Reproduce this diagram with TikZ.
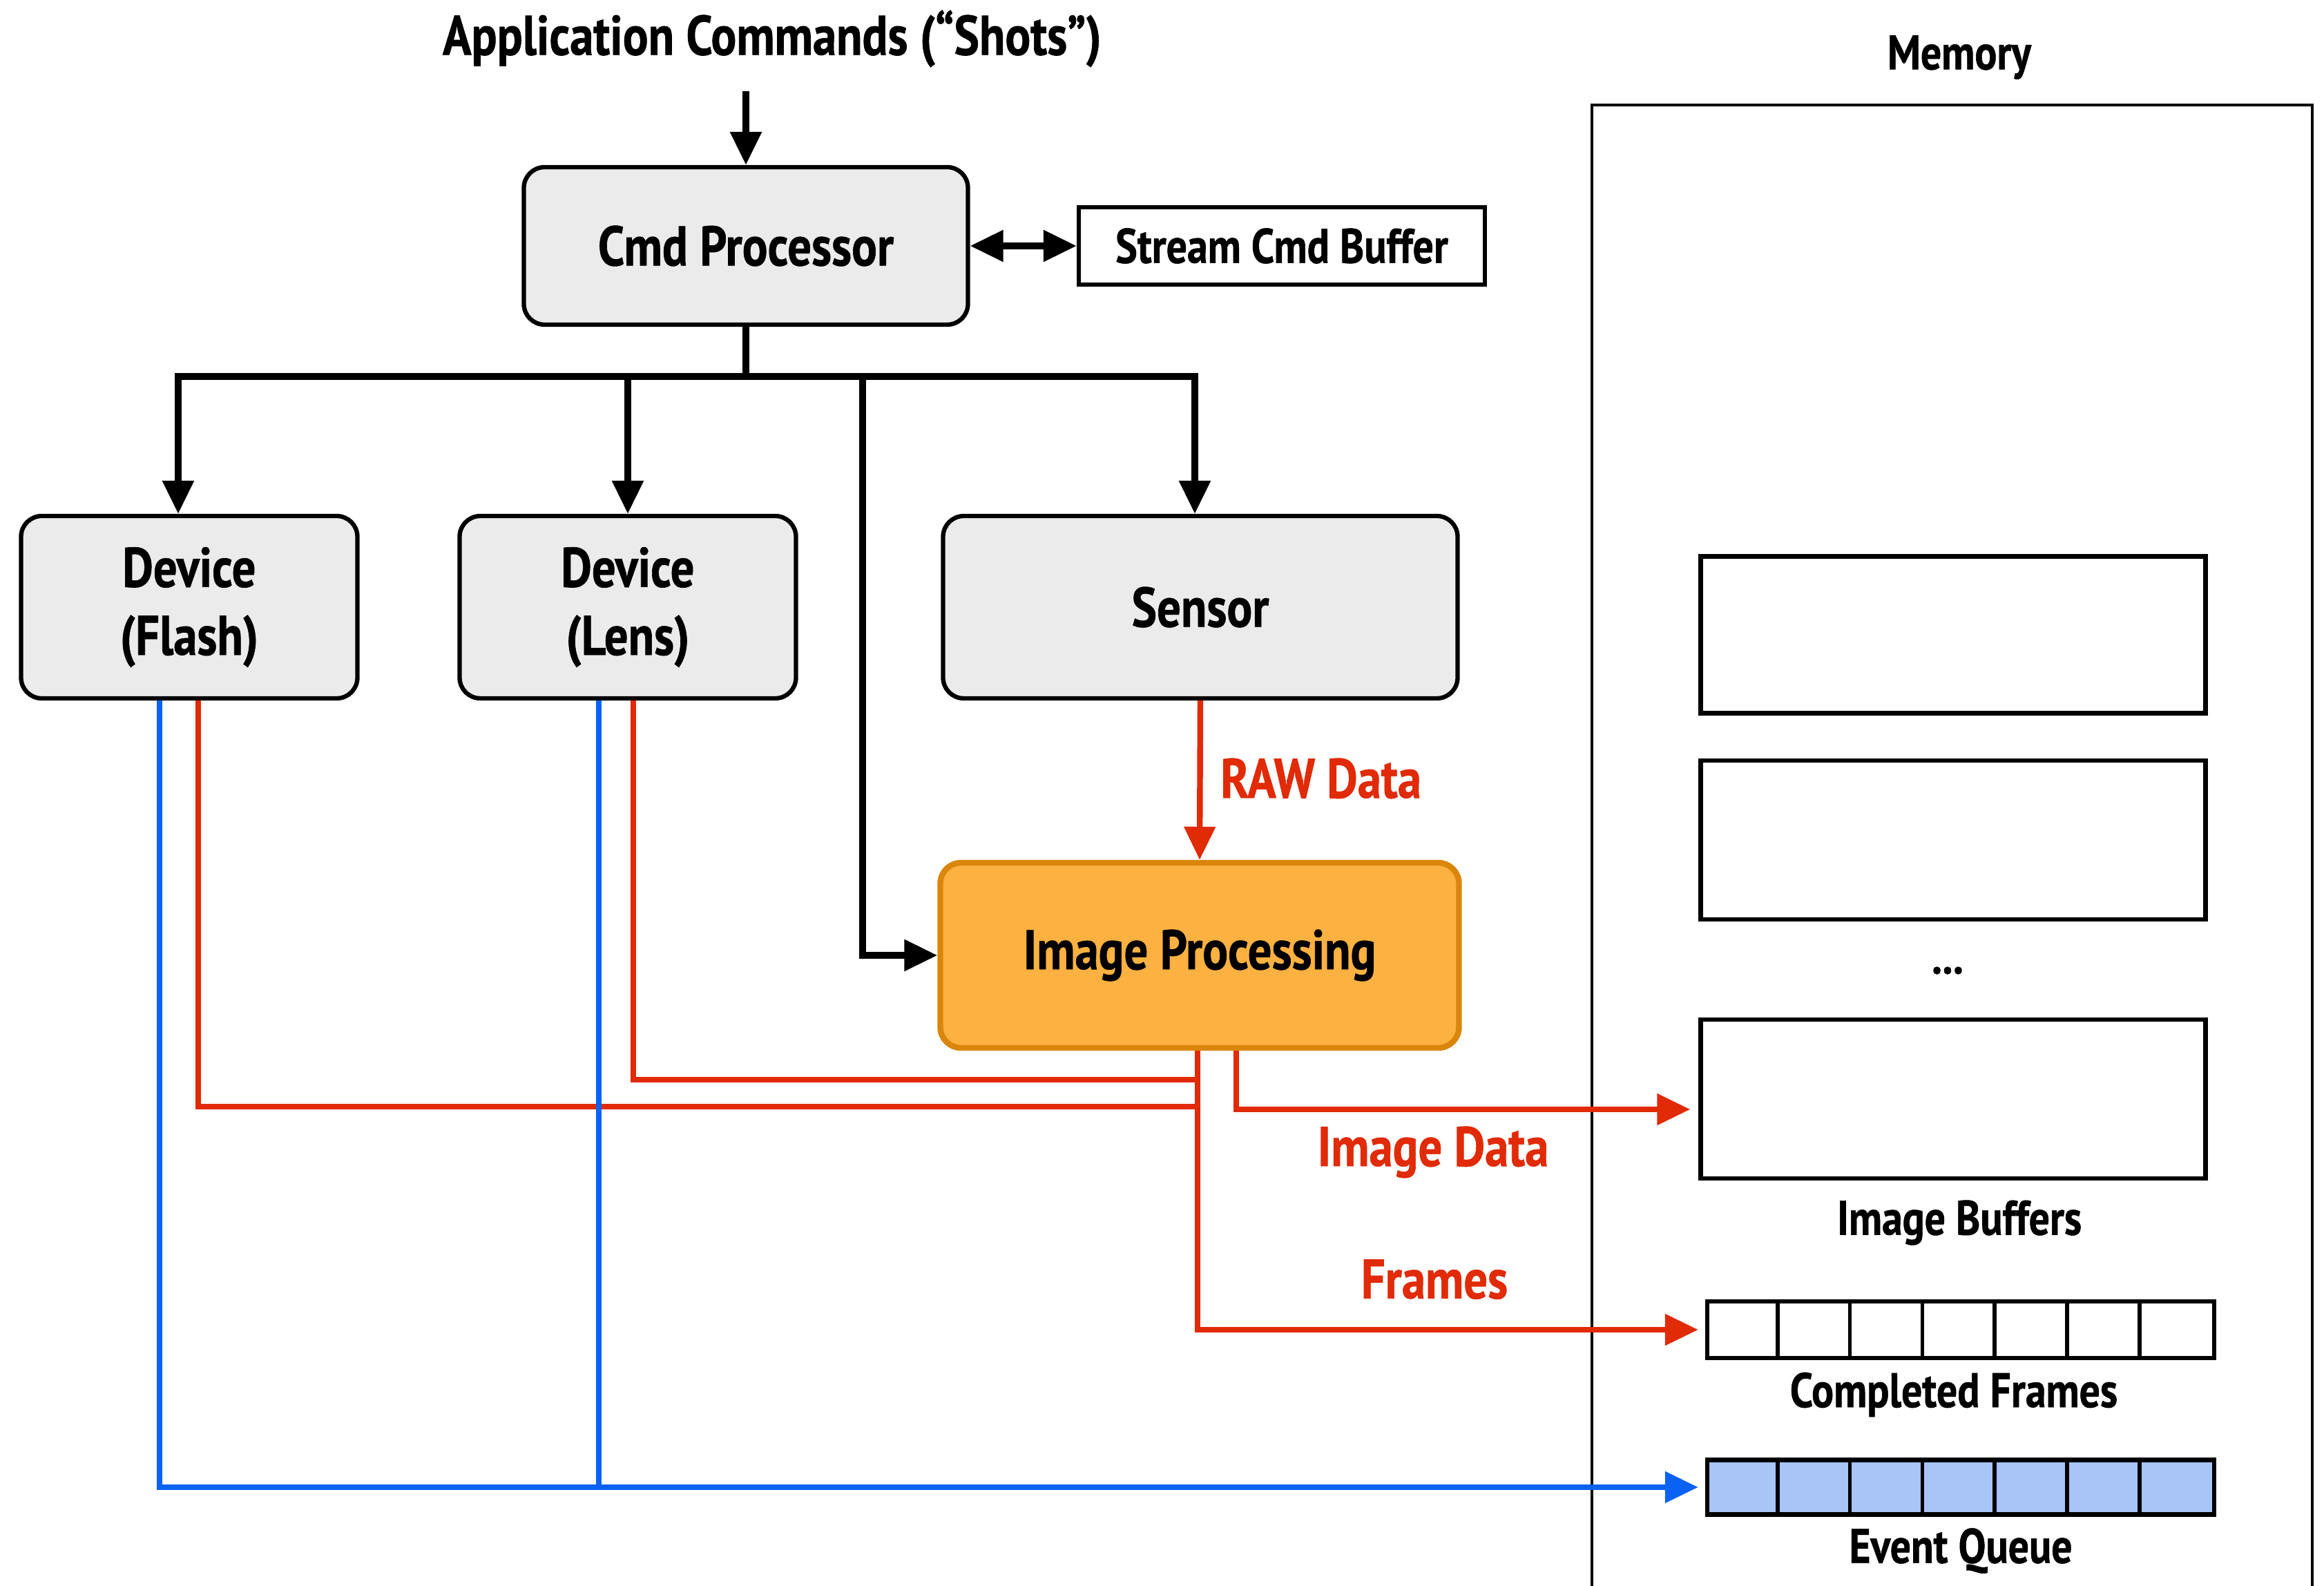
\documentclass[tikz,border=0pt]{standalone}
\usepackage{fontspec}
\setmainfont{PT Sans}[FakeStretch=0.85, BoldFeatures={FakeBold=0.8}]
\usetikzlibrary{arrows.meta}
\definecolor{boxgray}{HTML}{EBEBEB}
\definecolor{ipfill}{HTML}{FDB140}
\definecolor{ipdraw}{HTML}{D9860B}
\definecolor{datared}{HTML}{E12A06}
\definecolor{evblue}{HTML}{0A62F5}
\definecolor{qfill}{HTML}{A9C4F7}
\newcommand{\bigtxt}{\fontsize{23}{28}\selectfont\bfseries}
\newcommand{\smalltxt}{\fontsize{20}{24}\selectfont\bfseries}
\tikzset{
  unit/.style={draw=black, line width=1.8pt, rounded corners=0.3cm, fill=boxgray,
    align=center, inner sep=0pt, font=\bigtxt},
  tip/.style={-{Triangle[length=0.48cm,width=0.44cm]}},
  ctrl/.style={line width=2.6pt},
  redline/.style={line width=2.4pt, draw=datared},
  blueline/.style={line width=2.4pt, draw=evblue},
  membox/.style={draw=black, line width=1.8pt, inner sep=0pt},
  redlbl/.style={text=datared, font=\bigtxt}
}
\begin{document}
\begin{tikzpicture}
    \useasboundingbox (0,0) rectangle (33.65,-22.96);

    \node[font=\bigtxt] (title) at (11.18,-0.56) {Application Commands (“Shots”)};
    \node[unit, minimum width=6.43cm, minimum height=2.28cm] (cmd) at (10.80,-3.56) {Cmd Processor};
    \node[membox, minimum width=5.88cm, minimum height=1.12cm, font=\smalltxt] (stream) at (18.56,-3.56) {Stream Cmd Buffer};

    \node[unit, minimum width=4.87cm, minimum height=2.64cm] (flash) at (2.74,-8.79) {Device\\(Flash)};
    \node[unit, minimum width=4.87cm, minimum height=2.64cm] (lens) at (9.09,-8.79) {Device\\(Lens)};
    \node[unit, minimum width=7.45cm, minimum height=2.64cm] (sensor) at (17.38,-8.79) {Sensor};
    \node[unit, fill=ipfill, draw=ipdraw, line width=2.4pt, minimum width=7.51cm, minimum height=2.68cm] (ip) at (17.37,-13.83) {Image Processing};

    % memory side
    \draw[line width=1.1pt] (23.05,-23.3) -- (23.05,-1.52) -- (33.48,-1.52) -- (33.48,-23.3);
    \node[font=\smalltxt] (mem) at (28.37,-0.83) {Memory};
    \node[membox, minimum width=7.31cm, minimum height=2.27cm] (buf1) at (28.28,-9.19) {};
    \node[membox, minimum width=7.31cm, minimum height=2.30cm] (buf2) at (28.28,-12.16) {};
    \node[font=\smalltxt] (dots) at (28.20,-14.05) {...};
    \node[membox, minimum width=7.31cm, minimum height=2.30cm] (buf3) at (28.28,-15.91) {};
    \node[font=\smalltxt] (buflbl) at (28.37,-17.70) {Image Buffers};

    \node[membox, minimum width=7.34cm, minimum height=0.82cm] (frames) at (28.39,-19.25) {};
    \node[membox, fill=qfill, minimum width=7.34cm, minimum height=0.79cm] (events) at (28.39,-21.53) {};
    \foreach \i in {1,...,6} {
      \draw[line width=1.6pt] ([xshift=\i*1.0486cm]frames.north west) -- ([xshift=\i*1.0486cm]frames.south west);
      \draw[line width=1.6pt] ([xshift=\i*1.0486cm]events.north west) -- ([xshift=\i*1.0486cm]events.south west);
    }
    \node[font=\smalltxt] (frlbl) at (28.29,-20.19) {Completed Frames};
    \node[font=\smalltxt] (evlbl) at (28.39,-22.45) {Event Queue};

    % commands
    \coordinate (bus) at (10.80,-5.45);
    \coordinate (ipbend) at (12.49,-5.45);
    \draw[ctrl, tip] ([yshift=-0.22cm]title.south -| cmd.north) -- (cmd.north);
    \draw[ctrl, {Triangle[length=0.48cm,width=0.44cm]}-{Triangle[length=0.48cm,width=0.44cm]}] (cmd.east) -- (stream.west);
    \draw[ctrl, tip] (cmd.south) -- (bus) -| ([xshift=-0.16cm]flash.north);
    \draw[ctrl, tip] (bus) -| ([xshift=-0.08cm]sensor.north);
    \draw[ctrl, tip] (bus -| lens.north) -- (lens.north);
    \draw[ctrl, tip] (ipbend) |- (ip.west);

    % data
    \coordinate (ipout) at ([xshift=-0.03cm]ip.south);
    \coordinate (bufout) at ([xshift=0.53cm]ip.south);
    \coordinate (fjoin) at (17.34,-16.02);
    \coordinate (ljoin) at (17.34,-15.63);
    \draw[redline, tip] (sensor.south) -- (ip.north);
    \node[redlbl, anchor=west] (rawlbl) at (17.55,-11.27) {RAW Data};
    \draw[redline] ([xshift=0.13cm]flash.south) |- (fjoin);
    \draw[redline] ([xshift=0.08cm]lens.south) |- (ljoin);
    \draw[redline, tip] (ipout) |- ([xshift=-0.1cm]frames.west);
    \draw[redline, tip] (bufout) |- ([xshift=-0.12cm,yshift=-0.15cm]buf3.west);
    \node[redlbl] (imglbl) at (20.75,-16.68) {Image Data};
    \node[redlbl] (frmlbl) at (20.77,-18.52) {Frames};

    % events
    \coordinate (ljoinb) at (8.67,-21.55);
    \draw[blueline, tip] ([xshift=-0.43cm]flash.south) |- ([xshift=-0.1cm]events.west);
    \draw[blueline] ([xshift=-0.42cm]lens.south) -- (ljoinb);
\end{tikzpicture}
\end{document}
